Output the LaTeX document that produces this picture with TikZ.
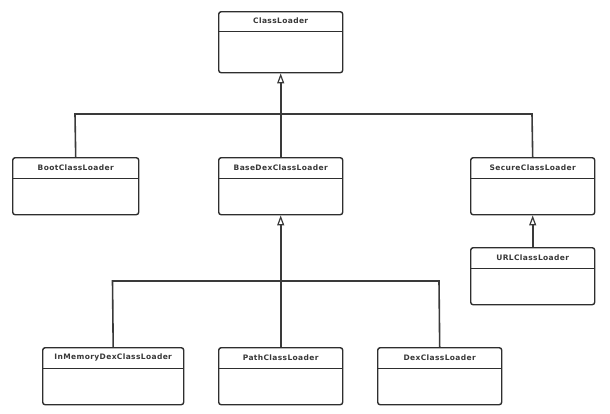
\documentclass[tikz,border=0pt]{standalone}
\usepackage{fontspec}
\setmainfont{DejaVu Sans}
\newfontfamily\classfont[LetterSpace=5]{DejaVu Sans}
\usetikzlibrary{arrows.meta}

\definecolor{boxline}{HTML}{2E2E2E}
\definecolor{wireline}{HTML}{3A3A3A}
\definecolor{labeltext}{HTML}{383838}

\tikzset{
  classbox/.style={draw=boxline, line width=1.4pt, rounded corners=2.5pt,
    fill=white, inner sep=0pt, anchor=north west},
  classname/.style={font=\classfont\fontsize{7.5}{9}\selectfont\bfseries, text=labeltext,
    inner sep=0pt},
  divider/.style={draw=boxline, line width=1pt},
  wire/.style={draw=wireline, line width=1.6pt, line join=miter},
  inherits/.style={wire, -{Triangle[open, length=10pt, width=7pt, line width=1.2pt]}}
}

% \umlclass{name}{left}{top}{width}{height}{header height}{label}
\newcommand\umlclass[7]{%
  \node[classbox, minimum width=#4pt, minimum height=#5pt] (#1) at (#2,#3) {};
  \draw[divider] ([yshift=-#6pt]#1.north west) -- ([yshift=-#6pt]#1.north east);
  \node[classname] (#1-name) at ([yshift=-#6pt/2]#1.north) {#7};
}

\begin{document}
\begin{tikzpicture}[x=1pt, y=-1pt]
  \useasboundingbox (0,0) rectangle (610,413);

  % class boxes
  \umlclass{cl}{218}{11}{124}{61}{20}{ClassLoader}
  \umlclass{boot}{12}{157}{126}{57}{21}{BootClassLoader}
  \umlclass{base}{218}{157}{124}{57}{21}{BaseDexClassLoader}
  \umlclass{secure}{470}{157}{124}{57}{21}{SecureClassLoader}
  \umlclass{url}{470}{247}{124}{57}{21}{URLClassLoader}
  \umlclass{inmem}{42}{347}{141}{57}{21}{InMemoryDexClassLoader}
  \umlclass{path}{218}{347}{124}{57}{21}{PathClassLoader}
  \umlclass{dex}{377}{347}{124}{57}{21}{DexClassLoader}

  % junction points of the first-level hierarchy
  \coordinate (busAl) at (75,114);
  \coordinate (busAr) at (532,114);
  \draw[wire] (boot.north) -- (busAl) -- (busAr) -- (secure.north);
  \draw[inherits] (base.north) -- (cl.south);

  % second-level hierarchy under BaseDexClassLoader
  \coordinate (busBl) at (112.5,281);
  \coordinate (busBr) at (439,281);
  \draw[wire] (inmem.north) -- (busBl) -- (busBr) -- (dex.north);
  \draw[inherits] (path.north) -- (base.south);

  % URLClassLoader extends SecureClassLoader
  \draw[inherits] (url.north) -- (secure.south);
\end{tikzpicture}
\end{document}
